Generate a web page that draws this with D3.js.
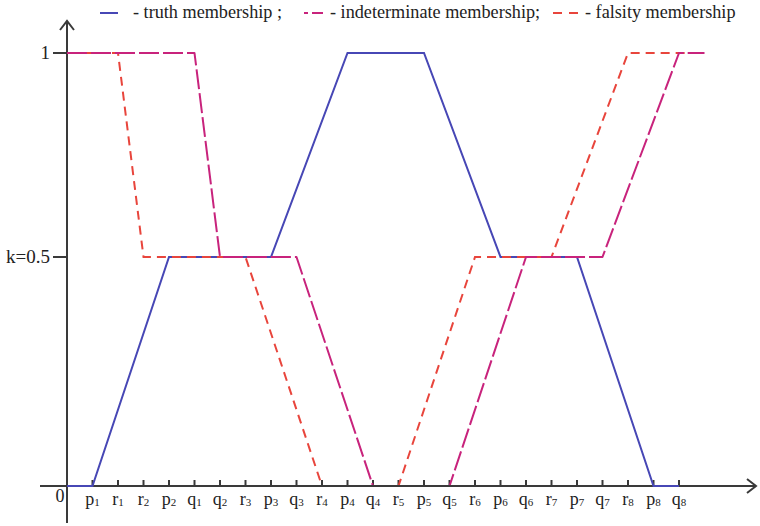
<!DOCTYPE html>
<html>
<head>
<meta charset="utf-8">
<script src="https://cdn.jsdelivr.net/npm/d3@7"></script>
<style>
  html, body { margin: 0; padding: 0; background: #fff; }
  svg { display: block; }
  svg text { font-family: "Liberation Serif", "Times New Roman", "DejaVu Serif", serif; }
</style>
</head>
<body>
<svg id="chart" width="760" height="526"></svg>
<script>
// Breakpoints along the x axis, in order; "end" is an unlabeled stop past q8.
const ticks = ["0","p1","r1","r2","p2","q1","q2","r3","p3","q3","r4","p4","q4",
               "r5","p5","q5","r6","p6","q6","r7","p7","q7","r8","p8","q8","end"];

// Membership levels
const k = 0.5;
const yLevels = [0, k, 1];
const yLabels = ["", "k=0.5", "1"];

// Truth membership (solid)
const truthAt  = ["0","p1","p2","p3","p4","p5","p6","p7","p8","q8"];
const truthVal = [ 0,   0,   k,   k,   1,   1,   k,   k,   0,   0 ];

// Indeterminate membership (long dash)
const indetAt  = ["0","q1","q2","q3","q4","q5","q6","q7","q8","end"];
const indetVal = [ 1,   1,   k,   k,   0,   0,   k,   k,   1,   1  ];

// Falsity membership (short dash)
const falsAt   = ["0","r1","r2","r3","r4","r5","r6","r7","r8","end"];
const falsVal  = [ 1,   1,   k,   k,   0,   0,   k,   k,   1,   1  ];

const colors = { truth: "#4747b5", indet: "#c8237c", fals: "#e8453c", axis: "#3a3a3a" };
const serif = "Liberation Serif, Times New Roman, DejaVu Serif, serif";

const svg = d3.select("#chart");

const x = d3.scalePoint().domain(ticks).range([67, 704.5]);
const y = d3.scaleLinear().domain(yLevels).range([486, 257, 53]);

const line = d3.line().x(d => x(d[0])).y(d => y(d[1]));
const zip = (a, b) => a.map((t, i) => [t, b[i]]);

// Dashed curves stop at the x axis instead of running along it
svg.append("defs").append("clipPath").attr("id", "above-axis")
  .append("rect").attr("x", 0).attr("y", 0).attr("width", 760).attr("height", y(0) - 1);

// Axes
const ax = svg.append("g").attr("stroke", colors.axis).attr("stroke-width", 2).attr("fill", "none");
ax.append("line").attr("x1", 40).attr("x2", 756).attr("y1", y(0)).attr("y2", y(0));
ax.append("path").attr("d", `M${747},${y(0) - 7}L${756},${y(0)}L${747},${y(0) + 7}`);
ax.append("line").attr("x1", x("0")).attr("x2", x("0")).attr("y1", 21).attr("y2", 523);
ax.append("path").attr("d", `M${x("0") - 7},${30}L${x("0")},${21}L${x("0") + 7},${30}`);

// x tick marks
ax.selectAll("line.xt").data(ticks.slice(1, 25)).join("line").attr("class", "xt")
  .attr("x1", d => x(d)).attr("x2", d => x(d))
  .attr("y1", y(0) - 6).attr("y2", y(0));

// y tick marks
ax.selectAll("line.yt").data(yLevels.slice(1)).join("line").attr("class", "yt")
  .attr("x1", x("0") - 14).attr("x2", x("0"))
  .attr("y1", d => y(d)).attr("y2", d => y(d));

// Truth membership
svg.append("path").datum(zip(truthAt, truthVal))
  .attr("d", line).attr("fill", "none")
  .attr("stroke", colors.truth).attr("stroke-width", 2);

// Falsity membership
svg.append("path").datum(zip(falsAt, falsVal))
  .attr("clip-path", "url(#above-axis)")
  .attr("d", line).attr("fill", "none")
  .attr("stroke", colors.fals).attr("stroke-width", 2)
  .attr("stroke-dasharray", "9,6");

// Indeterminate membership
svg.append("path").datum(zip(indetAt, indetVal))
  .attr("clip-path", "url(#above-axis)")
  .attr("d", line).attr("fill", "none")
  .attr("stroke", colors.indet).attr("stroke-width", 2)
  .attr("stroke-linejoin", "round")
  .attr("stroke-dasharray", "20,4");

// x tick labels: letter with numeric subscript
const xl = svg.append("g").attr("fill", "#222").attr("font-family", serif).attr("font-size", 18);
ticks.slice(1, 25).forEach(t => {
  const tx = xl.append("text").attr("x", x(t)).attr("y", 505).attr("text-anchor", "middle");
  tx.append("tspan").text(t[0]);
  tx.append("tspan").attr("font-size", 11).attr("dy", 1).text(t.slice(1));
});
xl.append("text").attr("x", x("0") - 7).attr("y", 502).attr("text-anchor", "middle").text("0");

// y labels
svg.append("g").attr("fill", "#222").attr("font-family", serif).attr("font-size", 19)
  .selectAll("text").data(yLevels.slice(1)).join("text")
  .attr("x", x("0") - 17).attr("y", d => y(d) + 6)
  .attr("text-anchor", "end")
  .text((d, i) => yLabels[i + 1]);

// Legend
const lg = svg.append("g").attr("font-family", serif).attr("font-size", 18.2).attr("fill", "#222");
const ly = 13;
lg.append("line").attr("x1", 100).attr("x2", 118).attr("y1", ly).attr("y2", ly)
  .attr("stroke", colors.truth).attr("stroke-width", 2);
lg.append("text").attr("x", 133).attr("y", ly + 5).text("- truth membership ;");
lg.append("line").attr("x1", 304).attr("x2", 323).attr("y1", ly).attr("y2", ly)
  .attr("stroke", colors.indet).attr("stroke-width", 2)
  .attr("stroke-dasharray", "4,4,11");
lg.append("text").attr("x", 330).attr("y", ly + 5).text("- indeterminate membership;");
lg.append("line").attr("x1", 553).attr("x2", 578).attr("y1", ly).attr("y2", ly)
  .attr("stroke", colors.fals).attr("stroke-width", 2)
  .attr("stroke-dasharray", "9,7");
lg.append("text").attr("x", 585).attr("y", ly + 5).text("- falsity membership");
</script>
</body>
</html>
